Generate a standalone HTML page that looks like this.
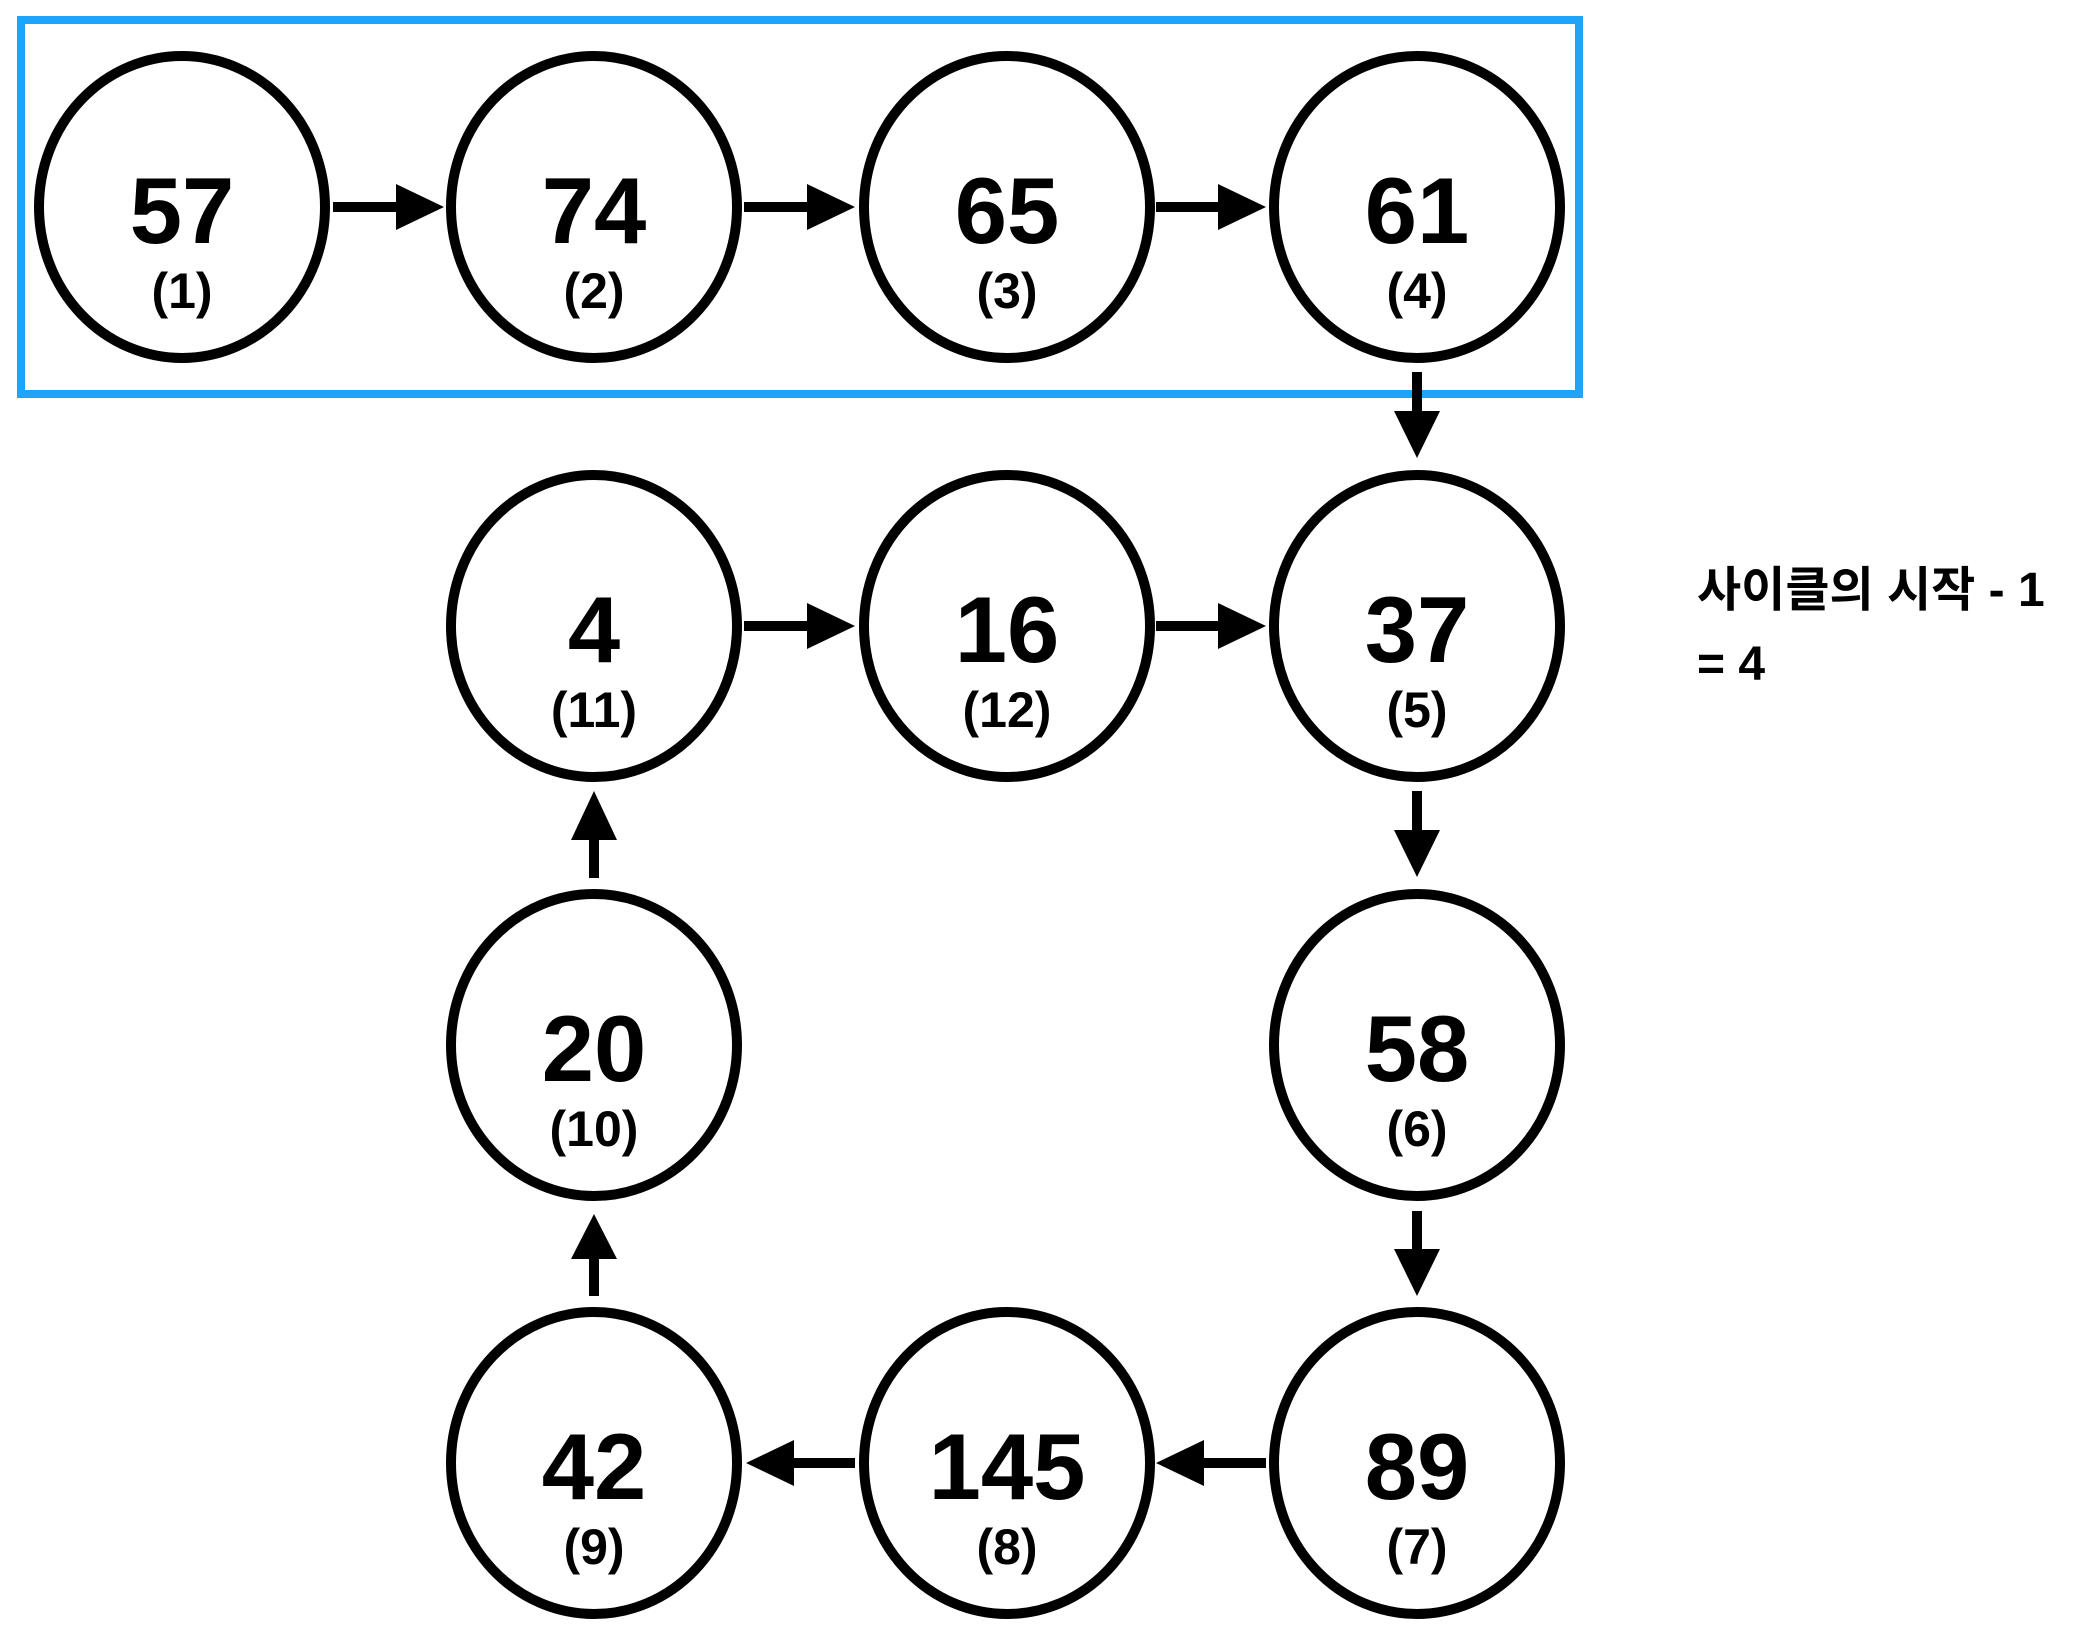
<!DOCTYPE html>
<html><head><meta charset="utf-8"><style>
html,body{margin:0;padding:0;background:#fff;}
svg{display:block;}
.n{font-family:"Liberation Sans",sans-serif;font-weight:bold;font-size:94px;text-anchor:middle;fill:#000;}
.s{font-family:"Liberation Sans",sans-serif;font-weight:bold;font-size:50px;text-anchor:middle;fill:#000;}
.k{font-family:"Liberation Sans","Noto Sans CJK KR",sans-serif;font-weight:bold;font-size:48px;fill:#000;}
</style></head><body>
<svg width="2088" height="1630" viewBox="0 0 2088 1630" xmlns="http://www.w3.org/2000/svg">
<rect x="21" y="20" width="1558" height="374" fill="none" stroke="#1ea5fb" stroke-width="8"/>
<g fill="#fff" stroke="#000" stroke-width="10">
<ellipse cx="182" cy="207" rx="143" ry="151"/>
<ellipse cx="594" cy="207" rx="143" ry="151"/>
<ellipse cx="1007" cy="207" rx="143" ry="151"/>
<ellipse cx="1417" cy="207" rx="143" ry="151"/>
<ellipse cx="594" cy="626" rx="143" ry="151"/>
<ellipse cx="1007" cy="626" rx="143" ry="151"/>
<ellipse cx="1417" cy="626" rx="143" ry="151"/>
<ellipse cx="594" cy="1045" rx="143" ry="151"/>
<ellipse cx="1417" cy="1045" rx="143" ry="151"/>
<ellipse cx="594" cy="1463" rx="143" ry="151"/>
<ellipse cx="1007" cy="1463" rx="143" ry="151"/>
<ellipse cx="1417" cy="1463" rx="143" ry="151"/>
</g>
<g fill="#000">
<!-- right arrows -->
<rect x="333" y="202" width="64" height="10"/><polygon points="396,184 444,207 396,230"/>
<rect x="744" y="202" width="64" height="10"/><polygon points="807,184 855,207 807,230"/>
<rect x="1156" y="202" width="63" height="10"/><polygon points="1218,184 1266,207 1218,230"/>
<rect x="744" y="621" width="64" height="10"/><polygon points="807,603 855,626 807,649"/>
<rect x="1156" y="621" width="63" height="10"/><polygon points="1218,603 1266,626 1218,649"/>
<!-- down arrows -->
<rect x="1412" y="372" width="10" height="40"/><polygon points="1394,411 1440,411 1417,458"/>
<rect x="1412" y="791" width="10" height="40"/><polygon points="1394,830 1440,830 1417,877"/>
<rect x="1412" y="1211" width="10" height="39"/><polygon points="1394,1249 1440,1249 1417,1296"/>
<!-- left arrows -->
<rect x="1203" y="1458" width="63" height="10"/><polygon points="1204,1440 1156,1463 1204,1486"/>
<rect x="793" y="1458" width="62" height="10"/><polygon points="794,1440 746,1463 794,1486"/>
<!-- up arrows -->
<rect x="589" y="1257" width="10" height="39"/><polygon points="571,1259 617,1259 594,1214"/>
<rect x="589" y="838" width="10" height="40"/><polygon points="571,840 617,840 594,791"/>
</g>
<g class="n">
<text x="182" y="243">57</text><text x="594" y="243">74</text><text x="1007" y="243">65</text><text x="1417" y="243">61</text>
<text x="594" y="662">4</text><text x="1007" y="662">16</text><text x="1417" y="662">37</text>
<text x="594" y="1081">20</text><text x="1417" y="1081">58</text>
<text x="594" y="1499">42</text><text x="1007" y="1499">145</text><text x="1417" y="1499">89</text>
</g>
<g class="s">
<text x="182" y="308">(1)</text><text x="594" y="308">(2)</text><text x="1007" y="308">(3)</text><text x="1417" y="308">(4)</text>
<text x="594" y="727">(11)</text><text x="1007" y="727">(12)</text><text x="1417" y="727">(5)</text>
<text x="594" y="1146">(10)</text><text x="1417" y="1146">(6)</text>
<text x="594" y="1564">(9)</text><text x="1007" y="1564">(8)</text><text x="1417" y="1564">(7)</text>
</g>
<text class="k" x="1697" y="606">사이클의 시작 - 1</text>
<text class="k" x="1697" y="680">= 4</text>
</svg>
</body></html>
